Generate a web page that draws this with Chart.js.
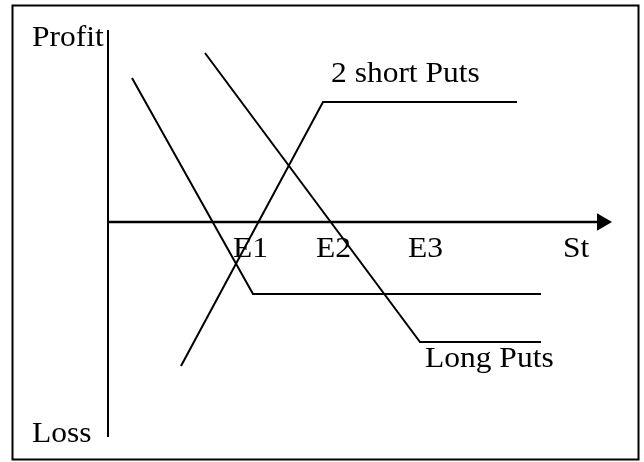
<!DOCTYPE html>
<html lang="en">
<head>
    <meta charset="UTF-8">
    <title>Long Puts and 2 short Puts</title>
    <script src="https://cdn.jsdelivr.net/npm/chart.js"></script>
    <style>
        html, body { margin: 0; padding: 0; background: #fff; }
        #wrap { width: 644px; height: 462px; }
    </style>
</head>
<body>
<div id="wrap"><canvas id="payoffChart" width="644" height="462"></canvas></div>

<script>
    // payoff lines (stock price St on x, profit/loss on y)
    const longPutE1 = [{x: 2.4, y: 14.4}, {x: 14.5, y: -7.2}, {x: 43.3, y: -7.2}];
    const longPutE3 = [{x: 9.7, y: 16.9}, {x: 31.2, y: -12.0}, {x: 43.3, y: -12.0}];
    const shortPutsE2 = [{x: 7.3, y: -14.4}, {x: 21.5, y: 12.0}, {x: 40.9, y: 12.0}];

    // axes of the sketch
    const priceAxis = [{x: 0, y: 0}, {x: 49.4, y: 0}];
    const profitAxis = [{x: 0, y: 19.2}, {x: 0, y: -21.5}];

    // text labels: [text, x, baseline y]
    const strikeLabels = [['E1', 12.5], ['E2', 20.8], ['E3', 30.0], ['St', 45.5]];
    const strikeLabelY = -3.5;
    const otherLabels = [
        ['Profit', -7.6, 17.6],
        ['Loss', -7.6, -22.0],
        ['2 short Puts', 22.3, 14.0],
        ['Long Puts', 31.7, -14.5]
    ];

    const labelPlugin = {
        id: 'sketchLabels',
        afterDatasetsDraw(chart) {
            const ctx = chart.ctx;
            const xs = chart.scales.x, ys = chart.scales.y;
            ctx.save();
            ctx.fillStyle = '#000';
            ctx.font = '30px "Liberation Serif", "Times New Roman", serif';
            ctx.textBaseline = 'alphabetic';
            ctx.textAlign = 'left';
            const put = (txt, x, y) => {
                ctx.save();
                ctx.translate(xs.getPixelForValue(x), ys.getPixelForValue(y));
                ctx.scale(1.05, 1);
                ctx.fillText(txt, 0, 0);
                ctx.restore();
            };
            strikeLabels.forEach(([t, x]) => put(t, x, strikeLabelY));
            otherLabels.forEach(([t, x, y]) => put(t, x, y));

            // frame round the picture
            ctx.strokeStyle = '#000';
            ctx.lineWidth = 2;
            ctx.strokeRect(12.5, 5.5, 626, 454);
            ctx.restore();
        }
    };

    const line = (data, width) => ({
        data: data,
        showLine: true,
        borderColor: '#000',
        borderWidth: width,
        pointRadius: 0,
        fill: false,
        tension: 0
    });

    const arrowAxis = line(priceAxis, 2.5);
    arrowAxis.pointRadius = [0, 10];
    arrowAxis.pointStyle = 'triangle';
    arrowAxis.rotation = 90;
    arrowAxis.pointBackgroundColor = '#000';
    arrowAxis.pointBorderColor = '#000';
    arrowAxis.pointBorderWidth = 0;

    new Chart(document.getElementById('payoffChart'), {
        type: 'scatter',
        data: {
            datasets: [
                arrowAxis,
                line(profitAxis, 2),
                line(longPutE1, 2),
                line(longPutE3, 2),
                line(shortPutsE2, 2)
            ]
        },
        options: {
            responsive: false,
            animation: false,
            events: [],
            layout: { padding: 0, autoPadding: false },
            plugins: {
                legend: { display: false },
                tooltip: { enabled: false }
            },
            scales: {
                x: { type: 'linear', min: -10.8, max: 53.6, display: false },
                y: { type: 'linear', min: -24.0, max: 22.2, display: false }
            }
        },
        plugins: [labelPlugin]
    });
</script>
</body>
</html>
